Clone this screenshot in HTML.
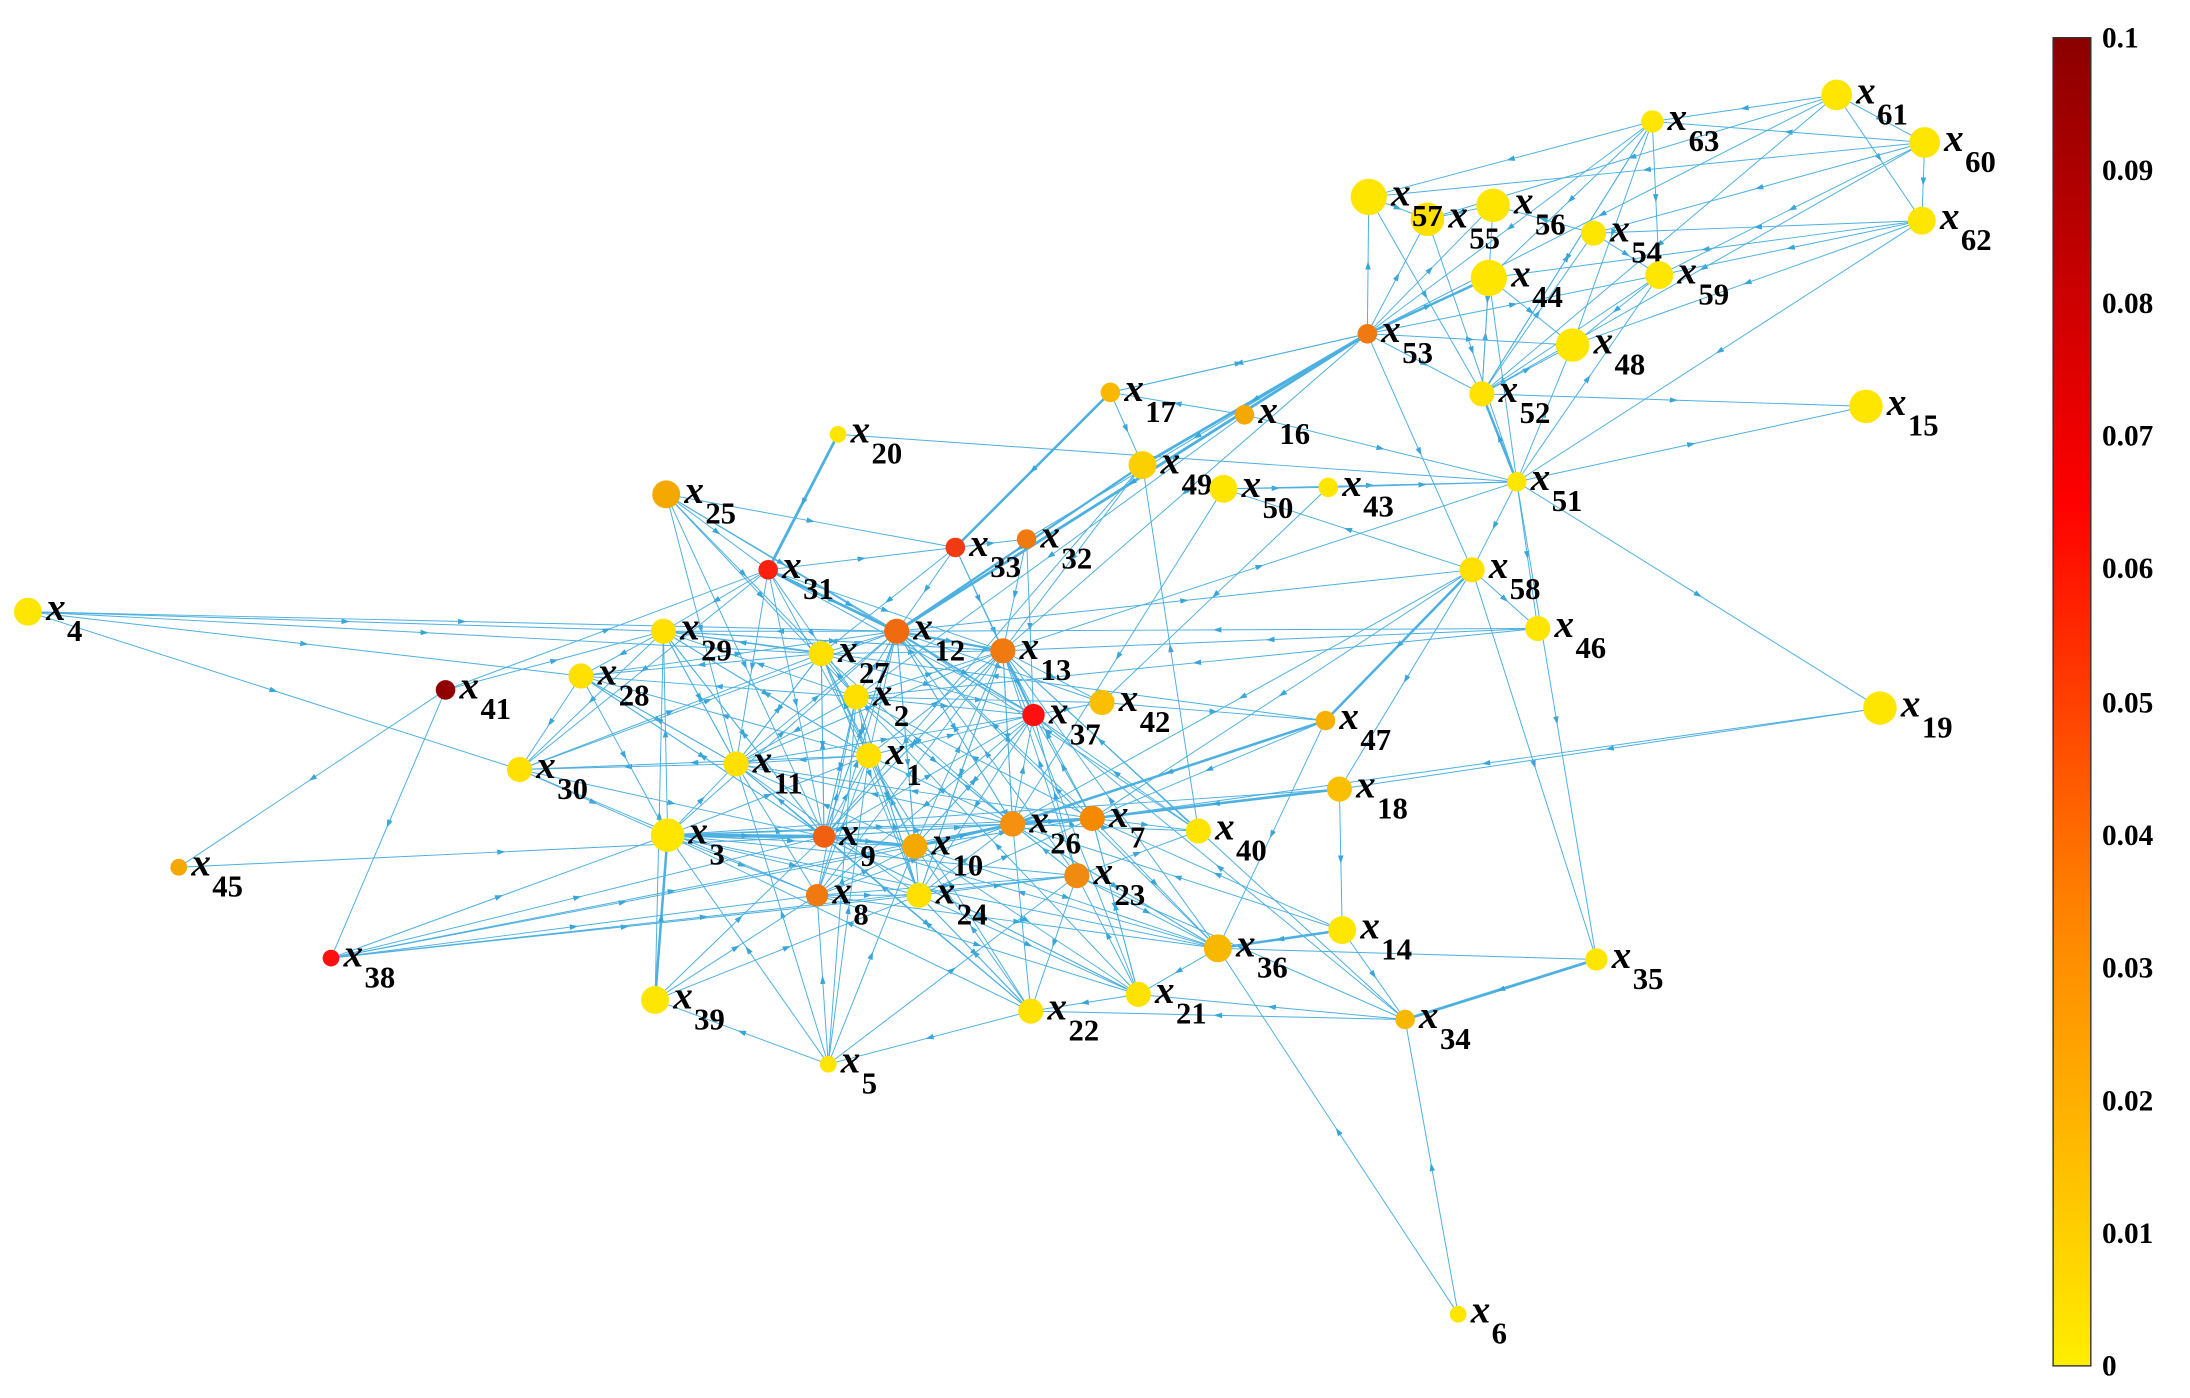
<!DOCTYPE html>
<html><head><meta charset="utf-8"><style>
html,body{margin:0;padding:0;background:#fff;}
svg{display:block}
text{font-family:"Liberation Serif",serif;font-weight:bold;fill:#000}
</style></head><body>
<svg id="s" width="2190" height="1398" viewBox="0 0 1568 1001" preserveAspectRatio="none" xmlns="http://www.w3.org/2000/svg">
<defs>
<marker id="a" markerWidth="6" markerHeight="4" refX="3" refY="2" orient="auto" markerUnits="userSpaceOnUse"><path d="M0,0 L6,2 L0,4 Z" fill="#3aa6d8"/></marker>
<linearGradient id="g" x1="0" y1="0" x2="0" y2="1">
<stop offset="0" stop-color="#8b0000"/><stop offset="0.35" stop-color="#ff0000"/><stop offset="0.65" stop-color="#ff8000"/><stop offset="1" stop-color="#ffee00"/>
</linearGradient>
</defs>
<g id="E" fill="none" stroke="#4cb0e0" stroke-width="0.7"></g>
<g id="N"></g>
<rect x="1470" y="27" width="27" height="951" fill="url(#g)" stroke="#333" stroke-width="1"/>
<g font-size="21">
<text x="1505" y="34">0.1</text><text x="1505" y="129">0.09</text><text x="1505" y="224">0.08</text><text x="1505" y="319">0.07</text><text x="1505" y="414">0.06</text><text x="1505" y="510">0.05</text><text x="1505" y="605">0.04</text><text x="1505" y="700">0.03</text><text x="1505" y="795">0.02</text><text x="1505" y="890">0.01</text><text x="1505" y="985">0</text>
</g>
</svg>
<script>
var N={1:[622,541,9,'#ffe000'],2:[613,499,9,'#ffe000'],3:[478,598,12,'#ffe600'],4:[20,438,10,'#ffe600'],5:[593,762,6,'#ffe600'],6:[1044,941,6,'#ffe600'],
7:[782,586,9,'#f58a00'],8:[585,641,8,'#f07a10'],9:[590,599,8,'#f06010'],10:[655,606,9,'#f5a800'],11:[527,547,9,'#ffe000'],12:[642,452,9,'#f06a10'],
13:[718,466,9,'#f07a10'],14:[961,666,10,'#ffe600'],15:[1336,291,12,'#ffe600'],16:[891,297,7,'#f5a800'],17:[795,281,7,'#f8b800'],18:[959,565,9,'#fac000'],
19:[1346,507,12,'#ffe600'],20:[600,311,6,'#ffe600'],21:[815,712,9,'#ffe200'],22:[738,724,9,'#ffe200'],23:[771,627,9,'#f08a10'],24:[658,641,9,'#ffe000'],
25:[477,354,10,'#f5a800'],26:[725,590,9,'#f59010'],27:[588,468,9,'#ffe000'],28:[416,484,9,'#ffe000'],29:[475,452,9,'#ffe000'],30:[372,551,9,'#ffe000'],
31:[550,408,7,'#ff2010'],32:[735,386,7,'#f07a10'],33:[684,392,7,'#f03a10'],34:[1006,730,7,'#f8b800'],35:[1143,687,8,'#ffe600'],36:[872,679,10,'#f8b800'],
37:[740,512,8,'#ff1010'],38:[237,686,6,'#ff1010'],39:[469,716,10,'#ffe600'],40:[858,595,9,'#ffe400'],41:[319,494,7,'#900000'],42:[789,503,9,'#fac000'],
43:[951,349,7,'#ffe600'],44:[1066,199,13,'#ffe600'],45:[128,621,6,'#f5a800'],46:[1101,450,9,'#ffe600'],47:[949,516,7,'#f8b000'],48:[1126,247,12,'#ffe600'],
49:[818,333,10,'#fcd000'],50:[876,350,10,'#ffe600'],51:[1086,345,7,'#ffe600'],52:[1061,282,9,'#ffe200'],53:[979,239,7,'#f07a10'],54:[1141,167,9,'#ffe600'],
55:[1022,157,12,'#ffe000'],56:[1069,147,12,'#ffe600'],57:[980,141,13,'#ffe600'],58:[1054,408,9,'#ffe000'],59:[1188,197,10,'#ffe600'],60:[1378,102,11,'#ffe600'],
61:[1315,68,11,'#ffe600'],62:[1376,158,10,'#ffe600'],63:[1183,87,8,'#ffe600']};
var E=[[4,29],[4,27],[4,12],[4,30],[4,28],[41,29],[41,45],[41,38],[41,31],[45,9],[38,3],[38,8],[38,9],[38,24],[38,10],[38,26],[38,23],
[20,31],[20,51],[25,33],[25,31],[25,11],[25,9],[25,37],[25,27],[25,2],[31,33],[31,12],[31,13],[31,37],[31,29],[31,30],[31,11],[31,2],
[33,32],[33,12],[33,27],[33,37],[32,13],[32,37],[17,33],[17,49],[17,53],[16,17],[16,51],[16,2],[53,49],[53,12],[53,44],[53,57],[53,55],[53,56],[53,48],[53,52],[53,59],[53,17],[53,32],[53,13],[53,58],
[49,12],[49,13],[49,9],[50,43],[50,51],[50,26],[43,51],[43,42],[51,52],[51,15],[51,58],[51,46],[51,19],[51,35],[51,44],[51,48],[51,59],[52,48],[52,44],[52,54],[52,59],[52,15],[52,63],
[58,47],[58,18],[58,50],[58,46],[58,35],[58,7],[58,26],[47,26],[47,7],[47,29],[47,36],[18,7],[18,14],[18,3],[19,18],[19,7],[46,13],[46,2],[46,12],
[61,63],[61,60],[61,62],[61,55],[61,53],[60,54],[60,59],[60,52],[60,63],[60,62],[62,54],[62,51],[62,48],[62,59],[63,57],[63,53],[63,52],[63,59],[63,44],[63,48],[54,59],[54,56],[56,55],[57,55],[57,52],[44,48],[55,51],[56,52],[59,48],[61,52],[62,44],[60,57],
[14,34],[14,36],[14,7],[14,26],[35,34],[35,36],[6,34],[6,36],[34,21],[34,22],[34,13],[34,37],[34,23],[36,21],[36,26],[36,13],[36,12],[36,9],[36,3],
[21,22],[21,23],[21,7],[21,9],[21,13],[21,2],[22,5],[22,24],[22,10],[22,26],[22,11],[22,3],[22,9],[22,1],[5,39],[5,3],[5,8],[5,1],[5,23],[5,10],[5,11],[5,2],[39,3],[39,9],[39,29],[39,8],[39,24],
[3,9],[3,10],[3,26],[3,7],[3,11],[3,29],[3,12],[3,1],[3,24],[3,8],[9,10],[9,26],[9,7],[9,11],[9,1],[9,2],[9,27],[9,12],[9,13],[9,37],[9,29],[9,28],[8,10],[8,24],[8,26],[8,1],[8,2],[8,12],[8,13],[8,30],[8,11],[8,23],
[10,26],[10,7],[10,1],[10,12],[10,13],[10,11],[10,27],[10,37],[24,26],[24,7],[24,23],[24,1],[24,2],[24,13],[24,11],[23,26],[23,13],[23,12],[23,2],[23,37],[23,40],[26,7],[26,40],[26,12],[26,13],[26,37],[26,1],[26,27],[26,11],[7,40],[7,13],[7,37],[7,2],[7,12],[7,11],[40,13],[40,37],[40,49],[40,12],
[1,2],[1,11],[1,12],[1,13],[1,27],[1,37],[1,29],[1,28],[1,30],[2,27],[2,12],[2,13],[2,11],[2,29],[2,28],[2,37],[2,42],[11,30],[11,29],[11,28],[11,27],[11,12],[11,13],[11,37],[27,12],[27,29],[27,28],[27,13],[27,37],[12,13],[12,29],[12,37],[12,42],[13,37],[13,42],[13,29],[29,28],[29,30],[28,30],[30,3],[30,9],[37,42],[42,47],[13,51],[12,58],[29,13],[28,12],[33,13],[25,12],
[28,11],[28,9],[28,3],[29,11],[29,9],[29,1],[30,12],[30,27],[31,9],[31,1],[27,11],[27,9],[27,24],[2,9],[2,24],[2,26],[12,9],[12,24],[12,26],[13,9],[13,24],[13,26],[37,8],[37,24],[37,10],[3,23],[8,21],[8,36],[9,21],[9,22],[10,21],[24,22],[24,21],[23,22],[23,36],[26,36],[7,36],[7,21],[10,36]];
var thick={"53,49":2,"53,12":2,"17,33":1.8,"20,31":2,"31,12":2,"3,9":2.5,"9,10":2,"10,26":2,"26,7":2,"58,47":1.8,"47,26":1.8,"18,7":1.8,"35,34":2,"14,36":1.8,"53,44":1.8,"51,52":1.8,"39,3":1.8,"12,13":1.6,"13,37":1.6,"49,12":1.6};
var ns="http://www.w3.org/2000/svg",eg=document.getElementById('E'),ng=document.getElementById('N');
E.forEach(function(e){var a=N[e[0]],b=N[e[1]];if(!a||!b)return;var mx=(a[0]+b[0])/2,my=(a[1]+b[1])/2;
var p=document.createElementNS(ns,'path');p.setAttribute('d','M'+a[0]+','+a[1]+' L'+mx+','+my+' L'+b[0]+','+b[1]);
p.setAttribute('marker-mid','url(#a)');var w=thick[e[0]+','+e[1]];if(w)p.setAttribute('stroke-width',w);eg.appendChild(p);});
for(var k in N){var n=N[k];var c=document.createElementNS(ns,'circle');c.setAttribute('cx',n[0]);c.setAttribute('cy',n[1]);c.setAttribute('r',n[2]);c.setAttribute('fill',n[3]);ng.appendChild(c);
var t=document.createElementNS(ns,'text');t.setAttribute('x',n[0]+n[2]+3);t.setAttribute('y',n[1]+6);t.setAttribute('font-size','28');t.setAttribute('font-style','italic');t.textContent='x';ng.appendChild(t);
var s=document.createElementNS(ns,'text');s.setAttribute('x',n[0]+n[2]+18);s.setAttribute('y',n[1]+21);s.setAttribute('font-size','22');s.textContent=k;ng.appendChild(s);}
</script>
</body></html>
